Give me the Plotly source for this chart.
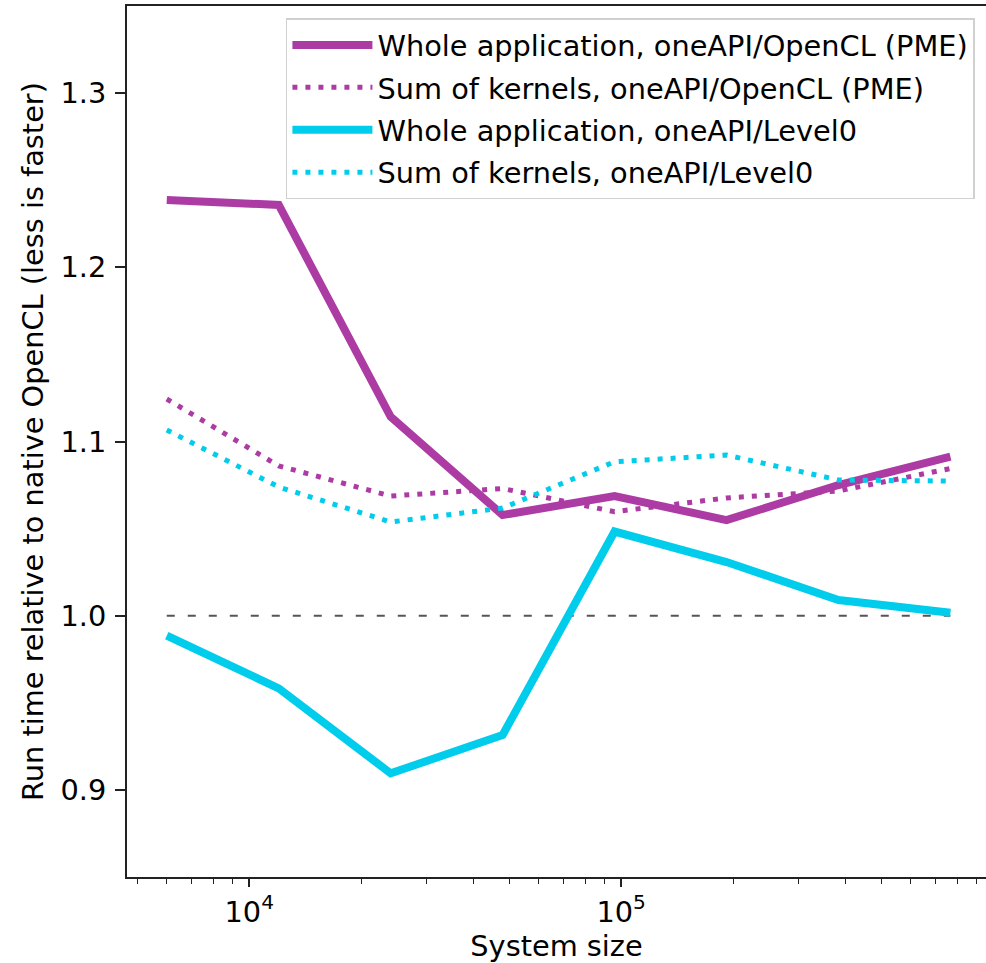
import plotly.graph_objects as go

system_size = [6000, 12000, 24000, 48000, 96000, 192000, 384000, 768000]
whole_pme = [1.2386, 1.2358, 1.1142, 1.0578, 1.0687, 1.0549, 1.0750, 1.0913]
kernels_pme = [1.1244, 1.0860, 1.0687, 1.0730, 1.0597, 1.0676, 1.0716, 1.0845]
whole_l0 = [0.9885, 0.9583, 0.9095, 0.9315, 1.0483, 1.0308, 1.0090, 1.0017]
kernels_l0 = [1.1066, 1.0739, 1.0538, 1.0618, 1.0884, 1.0922, 1.0779, 1.0773]
ref_level = 1.0

labels = [
    "Whole application, oneAPI/OpenCL (PME)",
    "Sum of kernels, oneAPI/OpenCL (PME)",
    "Whole application, oneAPI/Level0",
    "Sum of kernels, oneAPI/Level0",
]

PURPLE = "#ac3ca4"
CYAN = "#00cdeb"
FONT = "DejaVu Sans"
FS = 28.8

fig = go.Figure()

fig.add_trace(go.Scatter(
    x=[system_size[0], system_size[-1]], y=[ref_level, ref_level],
    mode="lines", line=dict(color="#555555", width=2, dash="8px,13px"),
    showlegend=False, hoverinfo="skip"))

series = [
    (whole_pme, PURPLE, "solid", 8),
    (kernels_pme, PURPLE, "5px,8px", 5),
    (whole_l0, CYAN, "solid", 8),
    (kernels_l0, CYAN, "5px,8px", 5),
]
for i, (vals, col, dash, w) in enumerate(series):
    fig.add_trace(go.Scatter(
        x=system_size, y=vals, mode="lines", name=labels[i],
        legendgroup=f"g{i}",
        line=dict(color=col, width=w, dash=dash)))

fig.update_layout(
    width=986, height=963,
    margin=dict(l=127, r=0, t=6, b=86),
    paper_bgcolor="white", plot_bgcolor="white",
    font=dict(family=FONT, size=FS, color="black"),
    showlegend=True,
    legend=dict(
        x=0.185, y=0.986, xanchor="left", yanchor="top",
        bgcolor="white", bordercolor="#d0d0d0", borderwidth=1.5,
        font=dict(family=FONT, size=FS, color="black"),
        tracegroupgap=2, itemwidth=80,
    ),
    xaxis=dict(
        type="log", range=[3.6712, 5.981],
        showgrid=False, zeroline=False,
        showline=True, linecolor="#222222", linewidth=2, mirror=True,
        ticks="outside", ticklen=8, tickwidth=1.5, tickcolor="#222222",
        tickvals=[1e4, 1e5], ticktext=["10<sup>4</sup>", "10<sup>5</sup>"],
        tickfont=dict(family=FONT, size=FS, color="black"),
        minor=dict(
            ticks="outside", ticklen=5, tickwidth=1.2, tickcolor="#222222",
            tickvals=[5000, 6000, 7000, 8000, 9000,
                      20000, 30000, 40000, 50000, 60000, 70000, 80000, 90000,
                      200000, 300000, 400000, 500000, 600000, 700000, 800000, 900000],
            showgrid=False,
        ),
        title=dict(text="System size", font=dict(family=FONT, size=FS, color="black"), standoff=6),
    ),
    yaxis=dict(
        range=[0.85, 1.35],
        showgrid=False, zeroline=False,
        showline=True, linecolor="#222222", linewidth=2, mirror=False,
        ticks="outside", ticklen=10, tickwidth=2, tickcolor="#222222",
        tickvals=[0.9, 1.0, 1.1, 1.2, 1.3], tickformat=".1f",
        tickfont=dict(family=FONT, size=FS, color="black"),
        ticklabelstandoff=3,
        title=dict(text="Run time relative to native OpenCL (less is faster)",
                   font=dict(family=FONT, size=FS, color="black"), standoff=8),
    ),
)

fig.write_html("out.html")
